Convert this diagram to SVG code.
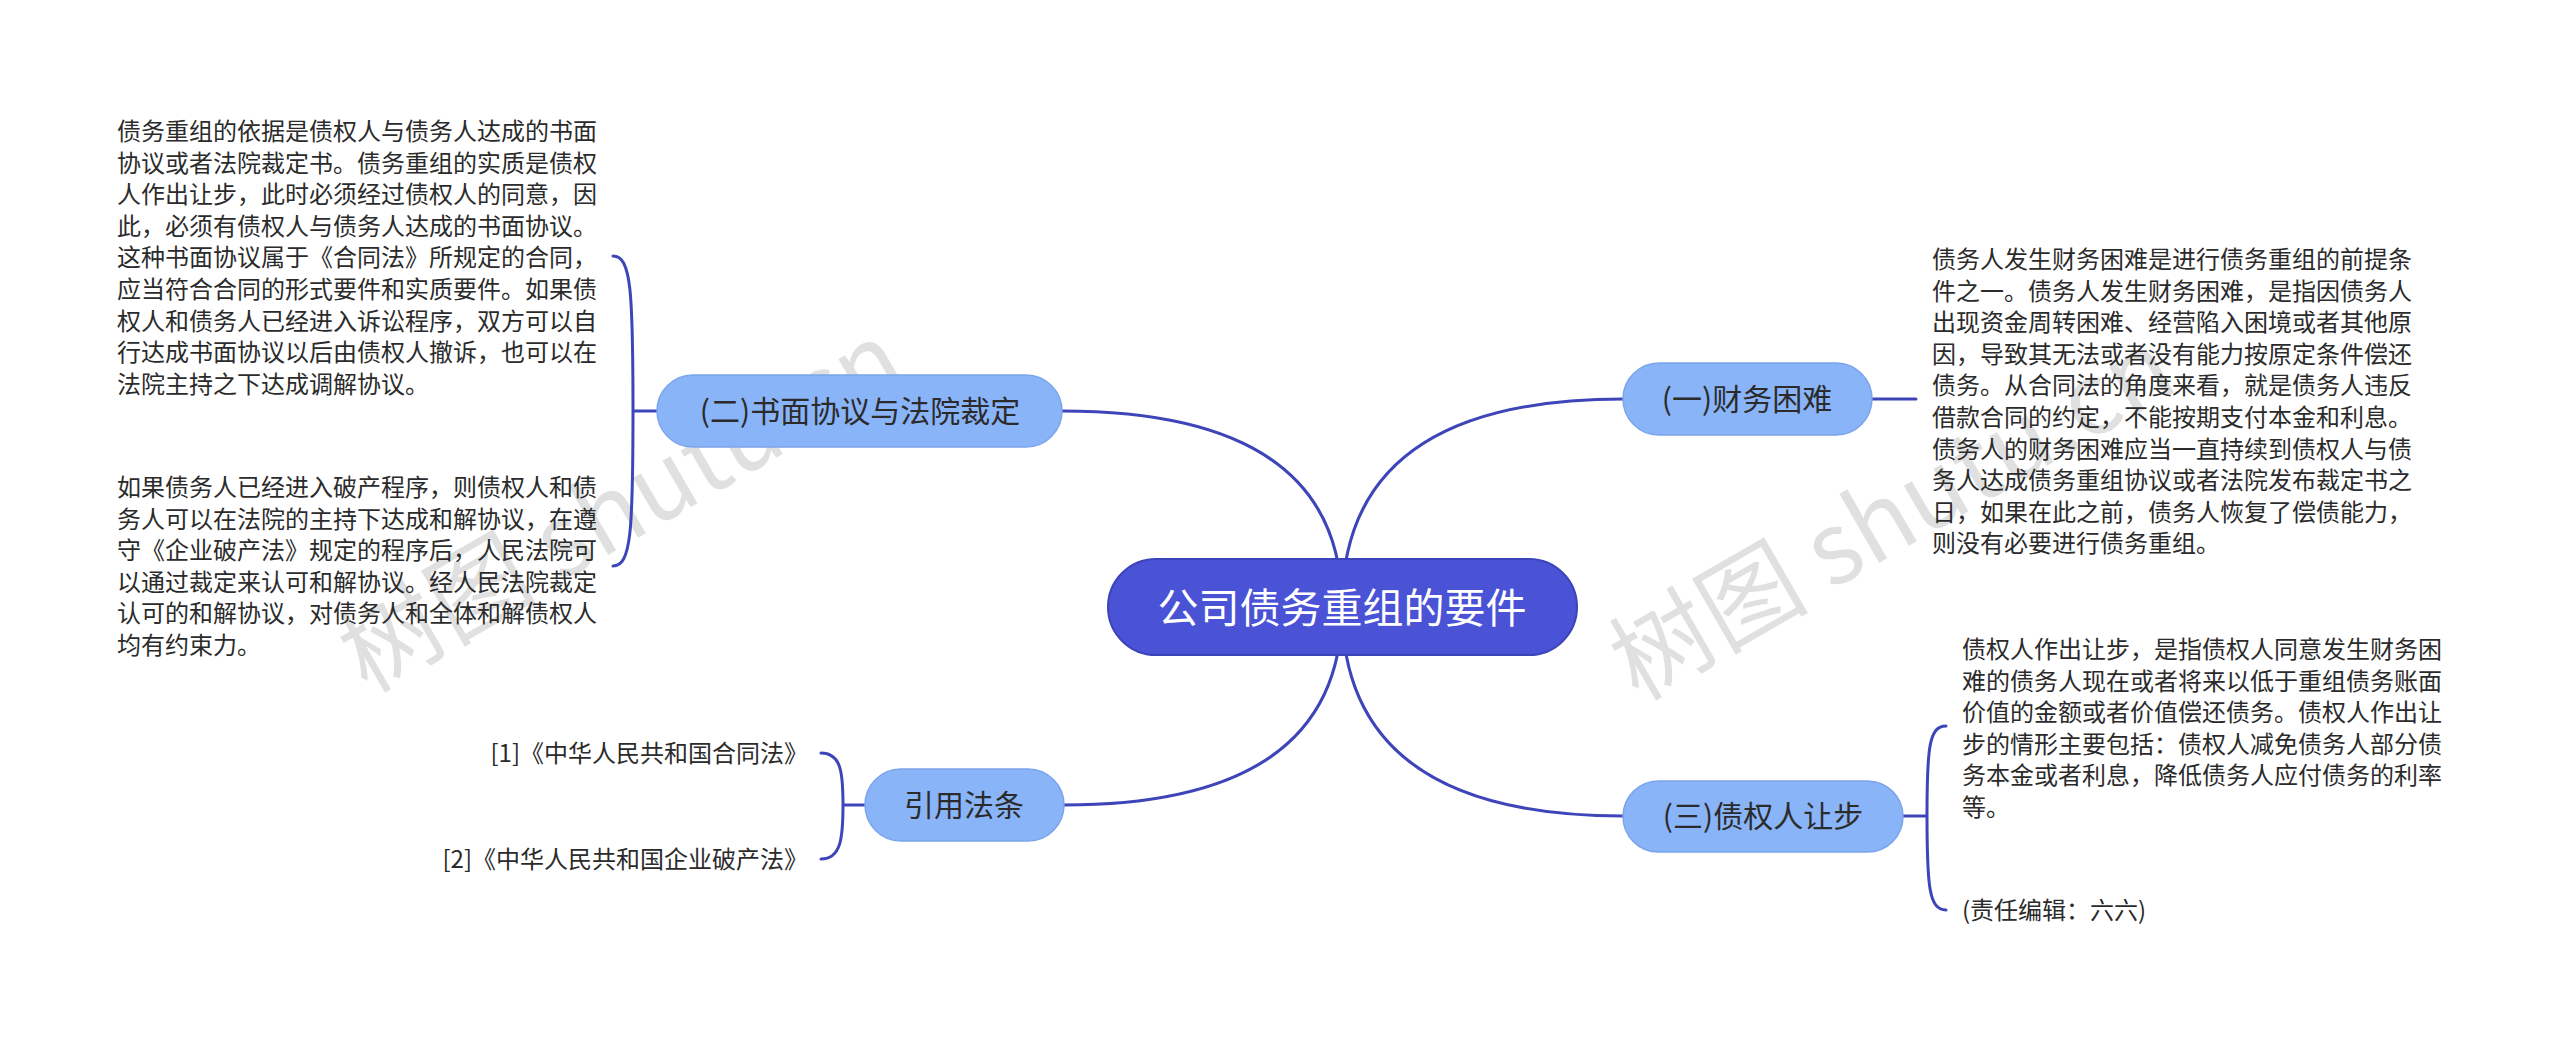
<svg xmlns="http://www.w3.org/2000/svg" width="2560" height="1041" viewBox="0 0 2560 1041">
<defs>
<style>
.bg{fill:#ffffff}
.wm{font-family:"Noto Sans CJK SC","Liberation Sans",sans-serif;font-size:100px;fill:#000;fill-opacity:0.12}
.conn{fill:none;stroke:#3D45B9;stroke-width:3;stroke-linecap:round}
.root rect{fill:#4A53D6;stroke:#3C44BA;stroke-width:2}
.root text{font-family:"Noto Sans CJK SC","Liberation Sans",sans-serif;font-size:41px;fill:#ffffff;text-anchor:middle}
.branch rect{fill:#8AB4F8;stroke:#7AA4EC;stroke-width:1.5}
.branch text{font-family:"Noto Sans CJK SC","Liberation Sans",sans-serif;font-size:30px;fill:#2B2B2B;text-anchor:middle}
.leaf text{font-family:"Noto Sans CJK SC","Liberation Sans",sans-serif;font-size:24px;fill:#2B2B2B}
</style>
</defs>
<rect class="bg" x="0" y="0" width="2560" height="1041"/>
<g id="watermarks">
<text class="wm" transform="translate(367,694) rotate(-30)">树图 shutu.cn</text>
<text class="wm" transform="translate(1638,702) rotate(-30)">树图 shutu.cn</text>
</g>
<g id="connectors">
<path class="conn" d="M1342,607 Q1342,411 1062,411"/>
<path class="conn" d="M1342,607 Q1342,399 1623,399"/>
<path class="conn" d="M1342,607 Q1342,816 1623,816"/>
<path class="conn" d="M1342,607 Q1342,805 1064,805"/>
<path class="conn" d="M657,411 L633,411 M633,411 C633,290 631,256 613,256 M633,411 C633,532 631,566 613,566"/>
<path class="conn" d="M1872,399 L1916,399"/>
<path class="conn" d="M1903,816 L1927,816 M1927,816 C1927,748 1929,726 1946,726 M1927,816 C1927,886 1929,910 1946,910"/>
<path class="conn" d="M865,805 L843,805 M843,805 C843,772 841,753 821,753 M843,805 C843,838 841,859 821,859"/>
</g>
<g id="root" class="root">
<rect x="1108" y="559" width="469" height="96" rx="48"/>
<text x="1342" y="623">公司债务重组的要件</text>
</g>
<g id="node-er" class="branch">
<rect x="657" y="375" width="405" height="72" rx="36"/>
<text x="860" y="422">(二)书面协议与法院裁定</text>
</g>
<g id="node-yi" class="branch">
<rect x="1623" y="363" width="249" height="72" rx="36"/>
<text x="1747" y="410">(一)财务困难</text>
</g>
<g id="node-san" class="branch">
<rect x="1623" y="781" width="280" height="71" rx="35.5"/>
<text x="1763" y="827">(三)债权人让步</text>
</g>
<g id="node-yinyong" class="branch">
<rect x="865" y="769" width="199" height="72" rx="36"/>
<text x="964" y="816">引用法条</text>
</g>
<g id="leaf-er-1" class="leaf">
<text x="117" y="140">
<tspan x="117" dy="0">债务重组的依据是债权人与债务人达成的书面</tspan>
<tspan x="117" dy="31.6">协议或者法院裁定书。债务重组的实质是债权</tspan>
<tspan x="117" dy="31.6">人作出让步，此时必须经过债权人的同意，因</tspan>
<tspan x="117" dy="31.6">此，必须有债权人与债务人达成的书面协议。</tspan>
<tspan x="117" dy="31.6">这种书面协议属于《合同法》所规定的合同，</tspan>
<tspan x="117" dy="31.6">应当符合合同的形式要件和实质要件。如果债</tspan>
<tspan x="117" dy="31.6">权人和债务人已经进入诉讼程序，双方可以自</tspan>
<tspan x="117" dy="31.6">行达成书面协议以后由债权人撤诉，也可以在</tspan>
<tspan x="117" dy="31.6">法院主持之下达成调解协议。</tspan>
</text>
</g>
<g id="leaf-er-2" class="leaf">
<text x="117" y="496">
<tspan x="117" dy="0">如果债务人已经进入破产程序，则债权人和债</tspan>
<tspan x="117" dy="31.6">务人可以在法院的主持下达成和解协议，在遵</tspan>
<tspan x="117" dy="31.6">守《企业破产法》规定的程序后，人民法院可</tspan>
<tspan x="117" dy="31.6">以通过裁定来认可和解协议。经人民法院裁定</tspan>
<tspan x="117" dy="31.6">认可的和解协议，对债务人和全体和解债权人</tspan>
<tspan x="117" dy="31.6">均有约束力。</tspan>
</text>
</g>
<g id="leaf-yi-1" class="leaf">
<text x="1932" y="268">
<tspan x="1932" dy="0">债务人发生财务困难是进行债务重组的前提条</tspan>
<tspan x="1932" dy="31.6">件之一。债务人发生财务困难，是指因债务人</tspan>
<tspan x="1932" dy="31.6">出现资金周转困难、经营陷入困境或者其他原</tspan>
<tspan x="1932" dy="31.6">因，导致其无法或者没有能力按原定条件偿还</tspan>
<tspan x="1932" dy="31.6">债务。从合同法的角度来看，就是债务人违反</tspan>
<tspan x="1932" dy="31.6">借款合同的约定，不能按期支付本金和利息。</tspan>
<tspan x="1932" dy="31.6">债务人的财务困难应当一直持续到债权人与债</tspan>
<tspan x="1932" dy="31.6">务人达成债务重组协议或者法院发布裁定书之</tspan>
<tspan x="1932" dy="31.6">日，如果在此之前，债务人恢复了偿债能力，</tspan>
<tspan x="1932" dy="31.6">则没有必要进行债务重组。</tspan>
</text>
</g>
<g id="leaf-san-1" class="leaf">
<text x="1962" y="658">
<tspan x="1962" dy="0">债权人作出让步，是指债权人同意发生财务困</tspan>
<tspan x="1962" dy="31.6">难的债务人现在或者将来以低于重组债务账面</tspan>
<tspan x="1962" dy="31.6">价值的金额或者价值偿还债务。债权人作出让</tspan>
<tspan x="1962" dy="31.6">步的情形主要包括：债权人减免债务人部分债</tspan>
<tspan x="1962" dy="31.6">务本金或者利息，降低债务人应付债务的利率</tspan>
<tspan x="1962" dy="31.6">等。</tspan>
</text>
</g>
<g id="leaf-san-2" class="leaf">
<text x="1962" y="919">(责任编辑：六六)</text>
</g>
<g id="leaf-yinyong-1" class="leaf">
<text x="808" y="762" text-anchor="end">[1]《中华人民共和国合同法》</text>
</g>
<g id="leaf-yinyong-2" class="leaf">
<text x="808" y="868" text-anchor="end">[2]《中华人民共和国企业破产法》</text>
</g>
</svg>
